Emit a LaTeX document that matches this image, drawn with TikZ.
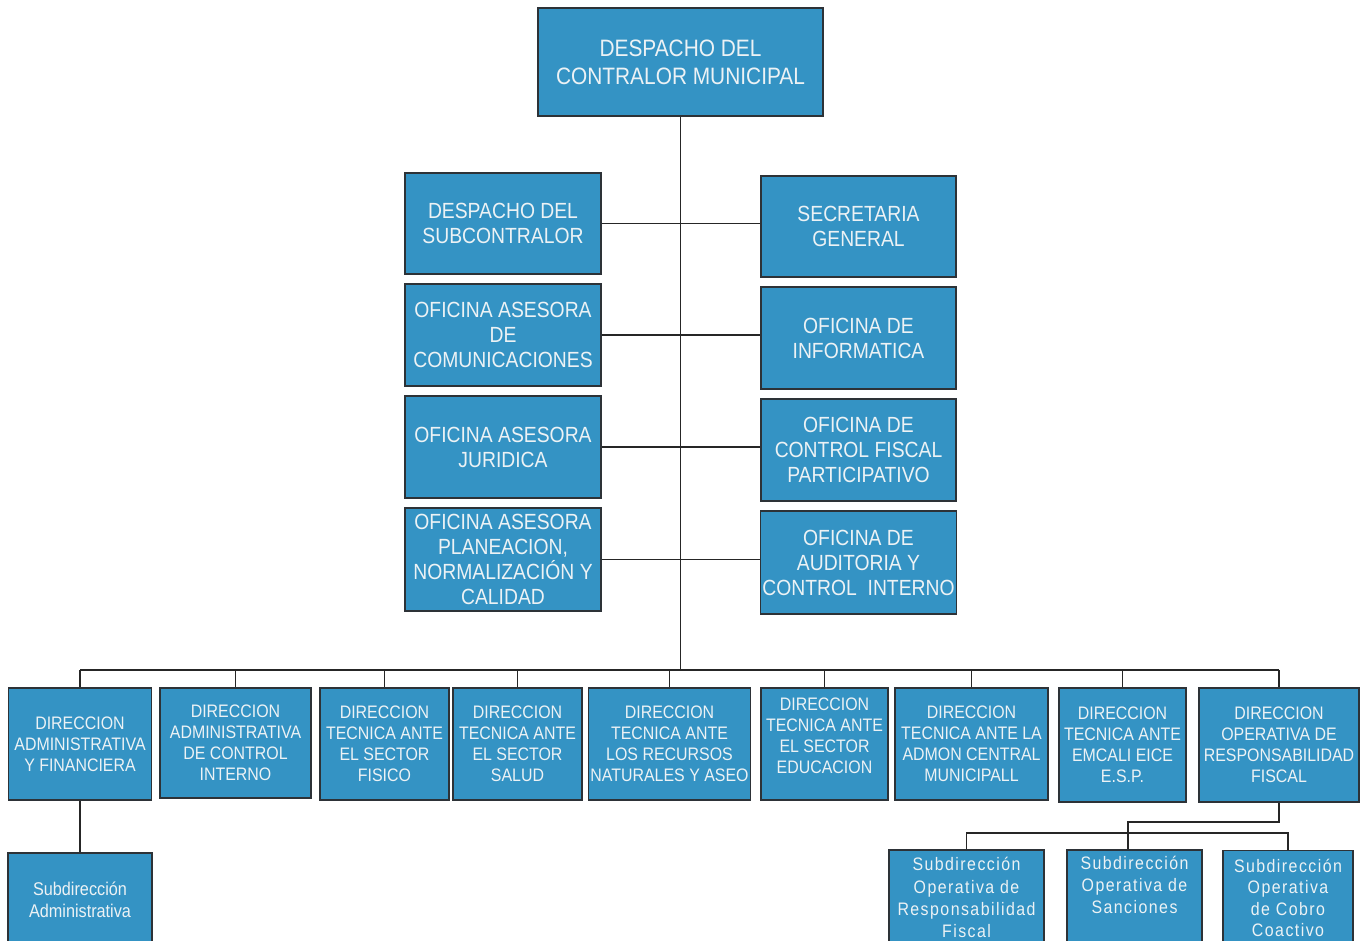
\documentclass[tikz,border=0pt]{standalone}
\usepackage{fontspec}
\setmainfont{Liberation Sans}[FakeStretch=0.88]
\usetikzlibrary{positioning}
\definecolor{cmblue}{RGB}{52,147,196}
\definecolor{cmedge}{RGB}{45,50,55}
\definecolor{cmtext}{RGB}{236,242,245}
\tikzset{
  obox/.style ={rectangle, draw=cmedge, fill=cmblue, line width=0.8pt,
                text=cmtext, align=center, inner sep=1pt},
  sz/.style 2 args={minimum width=#1*0.02cm, minimum height=#2*0.02cm},
  otop/.style ={obox, font=\fontsize{13.5}{15.9}\selectfont},
  omid/.style ={obox, font=\fontsize{12.5}{14.2}\selectfont},
  olow/.style ={obox, font=\fontsize{10.3}{11.9}\selectfont},
  osub/.style ={obox, font=\fontsize{10.5}{12.4}\selectfont},
  osubs/.style={obox, font=\fontsize{10.3}{12.6}\selectfont\addfontfeatures{LetterSpace=8}},
  oline/.style={line width=1pt, black!85},
}

\begin{document}
\begin{tikzpicture}[x=0.02cm, y=-0.02cm]
  \useasboundingbox (0,0) rectangle (1368,940);
  \clip (0,0) rectangle (1368,940);
  % head
  \node[otop, sz={285}{108}] (ctl) at (680.5,62) {DESPACHO DEL\\CONTRALOR MUNICIPAL};
  % offices, left and right of the trunk
  \node[omid, sz={196}{101}] (subc) at (503,223.5) {DESPACHO DEL\\SUBCONTRALOR};
  \node[omid, sz={196}{102}] (acom) at (503,335) {OFICINA ASESORA\\DE\\COMUNICACIONES};
  \node[omid, sz={196}{102}] (ajur) at (503,447) {OFICINA ASESORA\\JURIDICA};
  \node[omid, sz={196}{103}] (apla) at (503,559.5) {OFICINA ASESORA\\PLANEACION,\\NORMALIZACIÓN Y\\CALIDAD};
  \node[omid, sz={195}{101}] (secg) at (858.5,226.5) {SECRETARIA\\GENERAL};
  \node[omid, sz={195}{102}] (oinf) at (858.5,338) {OFICINA DE\\INFORMATICA};
  \node[omid, sz={195}{102}] (ocfp) at (858.5,450) {OFICINA DE\\CONTROL FISCAL\\PARTICIPATIVO};
  \node[omid, sz={195}{103}] (oaud) at (858.5,562.5) {OFICINA DE\\AUDITORIA Y\\CONTROL\ \ INTERNO};
  % direcciones
  \node[olow, sz={143}{112}] (dadm) at (80,744) {DIRECCION\\ADMINISTRATIVA\\Y FINANCIERA};
  \node[olow, sz={151}{110}] (dci)  at (235.5,743) {DIRECCION\\ADMINISTRATIVA\\DE CONTROL\\INTERNO};
  \node[olow, sz={129}{112}] (dfi)  at (384.5,744) {DIRECCION\\TECNICA ANTE\\EL SECTOR\\FISICO};
  \node[olow, sz={129}{112}] (dsa)  at (517.5,744) {DIRECCION\\TECNICA ANTE\\EL SECTOR\\SALUD};
  \node[olow, sz={161}{112}] (drn)  at (669.5,744) {DIRECCION\\TECNICA ANTE\\LOS RECURSOS\\NATURALES Y ASEO};
  \node[olow, sz={127}{112}] (ded)  at (824.5,744) {DIRECCION\\TECNICA ANTE\\EL SECTOR\\EDUCACION\\[-2.3pt]};
  \node[olow, sz={153}{112}] (dam)  at (971.5,744) {DIRECCION\\TECNICA ANTE LA\\ADMON CENTRAL\\MUNICIPALL};
  \node[olow, sz={127}{114}] (dem)  at (1122.5,745) {DIRECCION\\TECNICA ANTE\\EMCALI EICE\\E.S.P.};
  \node[olow, sz={160}{114}] (dre)  at (1279,745) {DIRECCION\\OPERATIVA DE\\RESPONSABILIDAD\\FISCAL};
  % subdirecciones
  \node[osub, sz={144}{94}] (sadm) at (80,900) {Subdirección\\Administrativa};
  \node[osubs, sz={155}{95}] (sres) at (966.5,897.5) {Subdirección\\Operativa de\\Responsabilidad\\Fiscal};
  \node[osubs, sz={135}{95}] (ssan) at (1134.5,897.5) {Subdirección\\Operativa de\\Sanciones\\[1.6pt]};
  \node[osubs, sz={130}{95}, font=\fontsize{10.3}{12.1}\selectfont\addfontfeatures{LetterSpace=8}]
       (scob) at (1288,898) {Subdirección\\Operativa\\de Cobro\\Coactivo};

  % trunk and branches
  \coordinate (bus) at (680.5,670);
  \draw[oline] (ctl.south) -- (bus);
  \draw[oline] (subc.east) -- (subc.east -| secg.west);
  \draw[oline] (acom.east) -- (acom.east -| oinf.west);
  \draw[oline] (ajur.east) -- (ajur.east -| ocfp.west);
  \draw[oline] (apla.east) -- (apla.east -| oaud.west);
  \draw[oline] (bus -| dadm.north) -- (bus -| dre.north);
  \foreach \n in {dadm,dci,dfi,dsa,drn,ded,dam,dem,dre}
    \draw[oline] (bus -| \n.north) -- (\n.north);
  \draw[oline] (dadm.south) -- (sadm.north);
  \coordinate (fork) at (1128,822);
  \coordinate (sbus) at (1128,833);
  \draw[oline] (dre.south) |- (fork) -- (fork |- ssan.north);
  \draw[oline] (sres.north) -- (sres.north |- sbus) -- (scob.north |- sbus) -- (scob.north);
\end{tikzpicture}
\end{document}
